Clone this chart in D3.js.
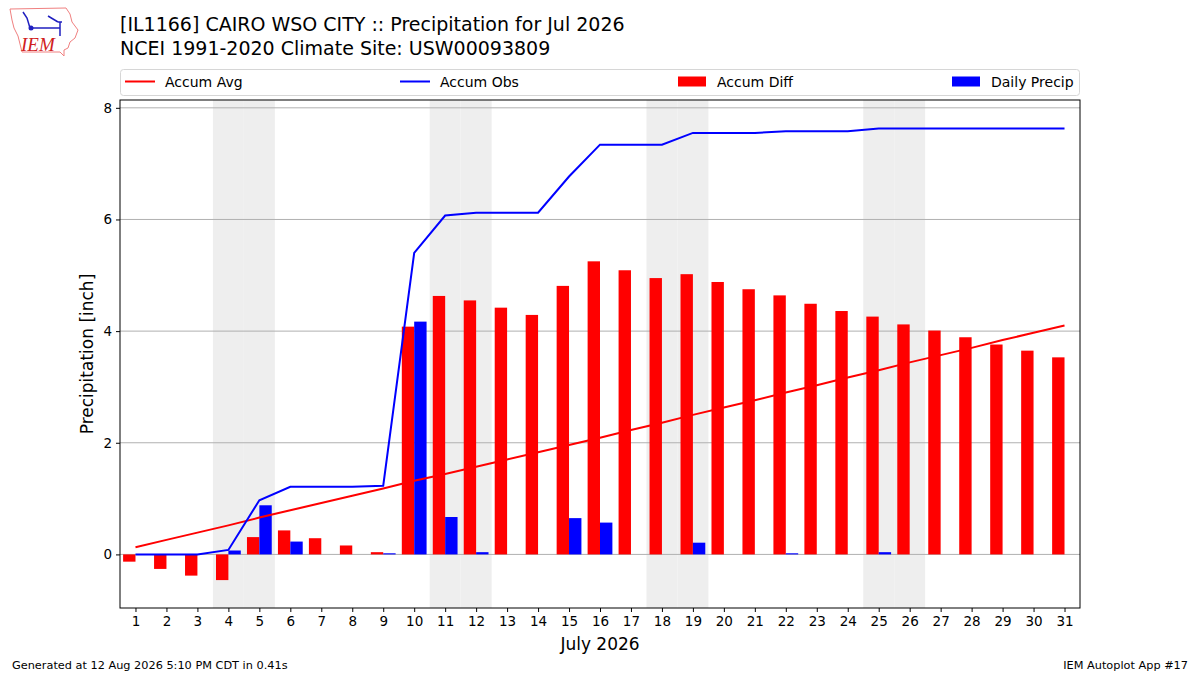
<!DOCTYPE html>
<html>
<head>
<meta charset="utf-8">
<script src="https://cdn.jsdelivr.net/npm/d3@7"></script>
<style>
  body { margin: 0; background: #fff; }
  svg { font-family: "DejaVu Sans", sans-serif; }
</style>
</head>
<body>
<svg id="chart" width="1200" height="675"></svg>
<script>
// days of July 2026
const days = d3.range(1, 32)

// accumulated climatology (inch)
const accumAvg = [0.13, 0.26, 0.39, 0.52, 0.66, 0.79, 0.92, 1.05, 1.18, 1.32, 1.44, 1.57,
  1.70, 1.83, 1.96, 2.09, 2.23, 2.36, 2.50, 2.63, 2.76, 2.90, 3.03, 3.17, 3.30,
  3.44, 3.57, 3.70, 3.84, 3.97, 4.10]

// accumulated observed (inch)
const accumObs = [0.00, 0.00, 0.00, 0.08, 0.97, 1.21, 1.21, 1.21, 1.23, 5.40, 6.07, 6.12,
  6.12, 6.12, 6.77, 7.34, 7.34, 7.34, 7.55, 7.55, 7.55, 7.58, 7.58, 7.58, 7.63,
  7.63, 7.63, 7.63, 7.63, 7.63, 7.63]

// accumulated departure (inch)
const accumDiff = [-0.13, -0.26, -0.38, -0.46, 0.31, 0.43, 0.29, 0.16, 0.04, 4.08, 4.63, 4.55,
  4.42, 4.29, 4.81, 5.25, 5.09, 4.95, 5.02, 4.88, 4.75, 4.64, 4.49, 4.36, 4.26,
  4.12, 4.01, 3.89, 3.76, 3.65, 3.53]

// daily precipitation (inch)
const dailyPrecip = [0, 0, 0, 0.07, 0.88, 0.23, 0, 0, 0.02, 4.17, 0.67, 0.04,
  0, 0, 0.65, 0.57, 0, 0, 0.21, 0, 0, 0.02, 0, 0, 0.04,
  0, 0, 0, 0, 0, 0]

// weekend days shaded
const weekends = [4, 5, 11, 12, 18, 19, 25, 26]

const yTicks = [0, 2, 4, 6, 8]

const svg = d3.select("#chart")

const pLeft = 120, pRight = 1080, pTop = 100, pBottom = 608

const x = d3.scaleLinear().domain([0.5, 31.5]).range([pLeft, pRight])
const y = d3.scaleLinear().domain([-0.96, 8.14]).range([pBottom, pTop])

const barW = x(0.4) - x(0)

// weekend shading
svg.append("g")
  .selectAll("rect")
  .data(weekends)
  .join("rect")
  .attr("x", d => x(d - 0.5))
  .attr("y", pTop)
  .attr("width", x(1) - x(0))
  .attr("height", pBottom - pTop)
  .attr("fill", "#eeeeee")

// grid
svg.append("g")
  .selectAll("line")
  .data(yTicks)
  .join("line")
  .attr("x1", pLeft)
  .attr("x2", pRight)
  .attr("y1", d => y(d))
  .attr("y2", d => y(d))
  .attr("stroke", "#b0b0b0")
  .attr("stroke-width", 1)

// accum diff bars
svg.append("g")
  .selectAll("rect")
  .data(days)
  .join("rect")
  .attr("x", d => x(d - 0.4))
  .attr("width", barW)
  .attr("y", (d, i) => y(Math.max(0, accumDiff[i])))
  .attr("height", (d, i) => Math.abs(y(accumDiff[i]) - y(0)))
  .attr("fill", "#ff0000")

// daily precip bars
svg.append("g")
  .selectAll("rect")
  .data(days.filter((d, i) => dailyPrecip[i] > 0))
  .join("rect")
  .attr("x", d => x(d))
  .attr("width", barW)
  .attr("y", d => y(dailyPrecip[d - 1]))
  .attr("height", d => y(0) - y(dailyPrecip[d - 1]))
  .attr("fill", "#0000ff")

const line = vals => d3.line()
  .x(d => x(d))
  .y(d => y(vals[d - 1]))(days)

svg.append("path")
  .attr("d", line(accumAvg))
  .attr("fill", "none")
  .attr("stroke", "#ff0000")
  .attr("stroke-width", 2)

svg.append("path")
  .attr("d", line(accumObs))
  .attr("fill", "none")
  .attr("stroke", "#0000ff")
  .attr("stroke-width", 2)

// axes
const xAxis = svg.append("g")
  .attr("transform", `translate(0,${pBottom})`)
  .call(d3.axisBottom(x).tickValues(days).tickFormat(d3.format("d")).tickSize(4).tickPadding(4))
xAxis.select(".domain").remove()
xAxis.selectAll("text").attr("font-size", 13.5).attr("fill", "#000").attr("font-family", "DejaVu Sans")

const yAxis = svg.append("g")
  .attr("transform", `translate(${pLeft},0)`)
  .call(d3.axisLeft(y).tickValues(yTicks).tickFormat(d3.format("d")).tickSize(4).tickPadding(4))
yAxis.select(".domain").remove()
yAxis.selectAll("text").attr("font-size", 13.5).attr("fill", "#000").attr("font-family", "DejaVu Sans")

svg.append("rect")
  .attr("x", pLeft)
  .attr("y", pTop)
  .attr("width", pRight - pLeft)
  .attr("height", pBottom - pTop)
  .attr("fill", "none")
  .attr("stroke", "#000")
  .attr("stroke-width", 1)

svg.append("text")
  .attr("x", x(16))
  .attr("y", 650)
  .attr("text-anchor", "middle")
  .attr("font-size", 17)
  .text("July 2026")

svg.append("text")
  .attr("transform", `translate(93,${(pTop + pBottom) / 2}) rotate(-90)`)
  .attr("text-anchor", "middle")
  .attr("font-size", 17)
  .text("Precipitation [inch]")

// titles
svg.append("text")
  .attr("x", 120)
  .attr("y", 31)
  .attr("font-size", 19)
  .text("[IL1166] CAIRO WSO CITY :: Precipitation for Jul 2026")

svg.append("text")
  .attr("x", 120)
  .attr("y", 55)
  .attr("font-size", 19)
  .text("NCEI 1991-2020 Climate Site: USW00093809")

// legend
const legend = svg.append("g")
legend.append("rect")
  .attr("x", 120.5).attr("y", 69.5)
  .attr("width", 959).attr("height", 26)
  .attr("rx", 3)
  .attr("fill", "#fff")
  .attr("stroke", "#d6d6d6")

const legendItems = [
  { label: "Accum Avg", color: "#ff0000", kind: "line", x: 125 },
  { label: "Accum Obs", color: "#0000ff", kind: "line", x: 400 },
  { label: "Accum Diff", color: "#ff0000", kind: "patch", x: 678 },
  { label: "Daily Precip", color: "#0000ff", kind: "patch", x: 952 }
]

legendItems.forEach(it => {
  if (it.kind === "line") {
    legend.append("line")
      .attr("x1", it.x).attr("x2", it.x + 30)
      .attr("y1", 81.5).attr("y2", 81.5)
      .attr("stroke", it.color).attr("stroke-width", 2)
  } else {
    legend.append("rect")
      .attr("x", it.x).attr("y", 76.5)
      .attr("width", 28).attr("height", 10)
      .attr("fill", it.color)
  }
  legend.append("text")
    .attr("x", it.x + (it.kind === "line" ? 40 : 39))
    .attr("y", 86.5)
    .attr("font-size", 14)
    .text(it.label)
})

// footer
svg.append("text")
  .attr("x", 12).attr("y", 669)
  .attr("font-size", 11.3)
  .text("Generated at 12 Aug 2026 5:10 PM CDT in 0.41s")

svg.append("text")
  .attr("x", 1188).attr("y", 669)
  .attr("text-anchor", "end")
  .attr("font-size", 11.3)
  .text("IEM Autoplot App #17")

// logo, rough Iowa outline
const logo = svg.append("g")
logo.append("path")
  .attr("d", "M10,9 L66,8 L70,14 L72,22 L78,30 L75,38 L70,42 L68,48 L64,50 L64,56 L60,52 L22,52 L20,44 L18,36 L14,28 L12,20 Z")
  .attr("fill", "#fff")
  .attr("stroke", "#f08080")
  .attr("stroke-width", 1)
logo.append("path")
  .attr("d", "M30,28 L60,28 M48,16 L58,22 M58,22 L62,22 M60,22 L60,36 M23,12 L27,18 L30,28")
  .attr("fill", "none")
  .attr("stroke", "#2020c0")
  .attr("stroke-width", 1.5)
logo.append("circle").attr("cx", 31).attr("cy", 28).attr("r", 2.5).attr("fill", "#2020c0")
logo.append("text")
  .attr("x", 21).attr("y", 51)
  .attr("font-family", "Liberation Serif, serif")
  .attr("font-style", "italic")
  .attr("font-size", 19)
  .attr("fill", "#d02020")
  .text("IEM")
</script>
</body>
</html>
